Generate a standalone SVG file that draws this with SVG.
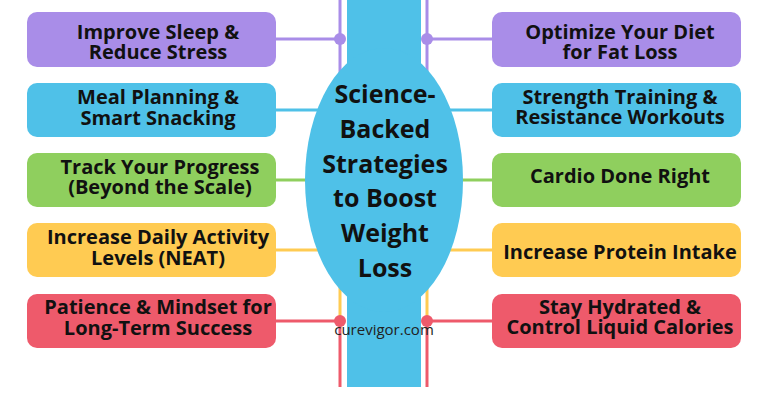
<svg xmlns="http://www.w3.org/2000/svg" width="768" height="402" viewBox="0 0 768 402">
<style>
.box{stroke:none}
.t{font-family:"Open Sans","DejaVu Sans",sans-serif;font-weight:700;font-size:20px;fill:#111;text-anchor:middle}
.c{font-family:"Open Sans","DejaVu Sans",sans-serif;font-weight:700;font-size:25px;fill:#111;text-anchor:middle}
.w{font-family:"Open Sans","DejaVu Sans",sans-serif;font-weight:400;font-size:15px;fill:#222;text-anchor:middle}
.ln{stroke-width:3;fill:none}
.pu{stroke:#A98DE8}.bl{stroke:#4FC1E8}.gr{stroke:#8FCF5E}.ye{stroke:#FFCB52}.re{stroke:#EE5A6B}
</style>
<rect width="768" height="402" fill="#ffffff"/>
<g id="connectors">
<line class="ln pu" x1="340" y1="0" x2="340" y2="180"/>
<line class="ln ye" x1="340" y1="180" x2="340" y2="321"/>
<line class="ln re" x1="340" y1="321" x2="340" y2="387"/>
<line class="ln pu" x1="427" y1="0" x2="427" y2="180"/>
<line class="ln ye" x1="427" y1="180" x2="427" y2="321"/>
<line class="ln re" x1="427" y1="321" x2="427" y2="387"/>
<line class="ln pu" x1="276" y1="39" x2="340" y2="39"/>
<line class="ln pu" x1="427" y1="39" x2="492" y2="39"/>
<line class="ln bl" x1="276" y1="110" x2="492" y2="110"/>
<line class="ln gr" x1="276" y1="180" x2="492" y2="180"/>
<line class="ln ye" x1="276" y1="250" x2="492" y2="250"/>
<line class="ln re" x1="276" y1="321" x2="340" y2="321"/>
<line class="ln re" x1="427" y1="321" x2="492" y2="321"/>
<circle cx="340" cy="39" r="6" fill="#A98DE8"/>
<circle cx="427" cy="39" r="6" fill="#A98DE8"/>
<circle cx="340" cy="321" r="6" fill="#EE5A6B"/>
<circle cx="427" cy="321" r="6" fill="#EE5A6B"/>
</g>
<g id="center">
<rect x="347" y="0" width="74" height="387" fill="#4FC1E8"/>
<ellipse cx="384" cy="180" rx="79" ry="132" fill="#4FC1E8"/>
<text class="c" x="385" y="103">Science-<tspan x="385" y="138">Backed</tspan><tspan x="385" y="173">Strategies</tspan><tspan x="385" y="207">to Boost</tspan><tspan x="385" y="242">Weight</tspan><tspan x="385" y="277">Loss</tspan></text>
<text class="w" x="384" y="335">curevigor.com</text>
</g>
<g id="n1"><rect class="box" x="27" y="12" width="249" height="55" rx="10" fill="#A98DE8"/>
<text class="t" x="158" y="39">Improve Sleep &amp;<tspan x="158" y="59">Reduce Stress</tspan></text></g>
<g id="n2"><rect class="box" x="27" y="83" width="249" height="54" rx="10" fill="#4FC1E8"/>
<text class="t" x="158" y="104">Meal Planning &amp;<tspan x="158" y="125">Smart Snacking</tspan></text></g>
<g id="n3"><rect class="box" x="27" y="153" width="249" height="54" rx="10" fill="#8FCF5E"/>
<text class="t" x="160" y="174">Track Your Progress<tspan x="160" y="194">(Beyond the Scale)</tspan></text></g>
<g id="n4"><rect class="box" x="27" y="223" width="249" height="54" rx="10" fill="#FFCB52"/>
<text class="t" x="158" y="244">Increase Daily Activity<tspan x="158" y="265">Levels (NEAT)</tspan></text></g>
<g id="n5"><rect class="box" x="27" y="294" width="249" height="54" rx="10" fill="#EE5A6B"/>
<text class="t" x="158" y="314">Patience &amp; Mindset for<tspan x="158" y="335">Long-Term Success</tspan></text></g>
<g id="n6"><rect class="box" x="492" y="12" width="249" height="55" rx="10" fill="#A98DE8"/>
<text class="t" x="620" y="39">Optimize Your Diet<tspan x="620" y="59">for Fat Loss</tspan></text></g>
<g id="n7"><rect class="box" x="492" y="83" width="249" height="54" rx="10" fill="#4FC1E8"/>
<text class="t" x="620" y="104">Strength Training &amp;<tspan x="620" y="124">Resistance Workouts</tspan></text></g>
<g id="n8"><rect class="box" x="492" y="153" width="249" height="54" rx="10" fill="#8FCF5E"/>
<text class="t" x="620" y="183">Cardio Done Right</text></g>
<g id="n9"><rect class="box" x="492" y="223" width="249" height="54" rx="10" fill="#FFCB52"/>
<text class="t" x="620" y="259">Increase Protein Intake</text></g>
<g id="n10"><rect class="box" x="492" y="294" width="249" height="54" rx="10" fill="#EE5A6B"/>
<text class="t" x="620" y="314">Stay Hydrated &amp;<tspan x="620" y="334">Control Liquid Calories</tspan></text></g>
</svg>
